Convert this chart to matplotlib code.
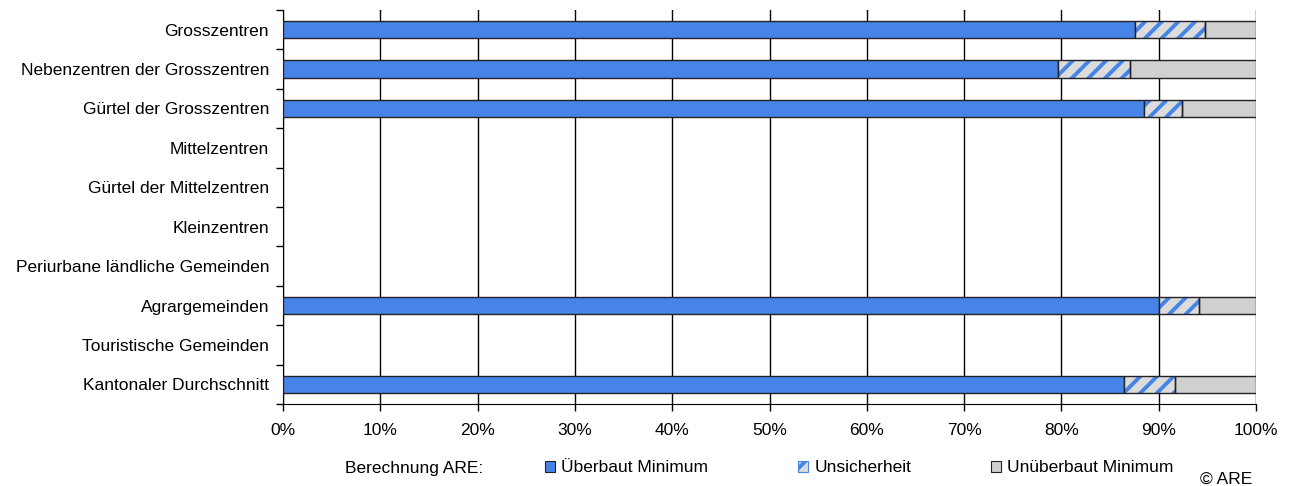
import numpy as np
import matplotlib
matplotlib.use("Agg")
import matplotlib.pyplot as plt
from matplotlib.patches import Patch

plt.rcParams['font.family'] = ['Liberation Sans', 'DejaVu Sans']
plt.rcParams['hatch.linewidth'] = 2.8

categories = ["Grosszentren", "Nebenzentren der Grosszentren", "Gürtel der Grosszentren",
              "Mittelzentren", "Gürtel der Mittelzentren", "Kleinzentren",
              "Periurbane ländliche Gemeinden", "Agrargemeinden", "Touristische Gemeinden",
              "Kantonaler Durchschnitt"]
# shares in %, None where the category has no data
ueberbaut = [87.6, 79.6, 88.5, None, None, None, None, 90.0, None, 86.4]
unsicher = [7.2, 7.5, 3.9, None, None, None, None, 4.1, None, 5.3]
legend_labels = ["Überbaut Minimum", "Unsicherheit", "Unüberbaut Minimum"]

blue = "#4784E8"
grey = "#D0D0D0"
light = "#DCDCDC"
edge = "#222222"
fs = 12.5

idx = np.array([i for i, v in enumerate(ueberbaut) if v is not None])
ub = np.array([ueberbaut[i] for i in idx])
un = np.array([unsicher[i] for i in idx])
rest = 100 - ub - un

fig = plt.figure(figsize=(12.92, 4.86), dpi=100)
ax = fig.add_axes([283 / 1292, 1 - 404 / 486, (1256 - 283) / 1292, (404 - 10) / 486])

h = 0.44
ax.barh(idx, ub, height=h, color=blue, edgecolor=edge, linewidth=1, zorder=3)
# hatched uncertainty: fill with blue hatch, then outline on top
ax.barh(idx, un, left=ub, height=h, color=light, edgecolor=blue,
        hatch="//", linewidth=0, zorder=3)
ax.barh(idx, un, left=ub, height=h, color="none", edgecolor=edge,
        linewidth=1, zorder=4)
ax.barh(idx, rest, left=ub + un, height=h, color=grey, edgecolor=edge,
        linewidth=1, zorder=3)

y = np.arange(len(categories))
ax.set_xlim(0, 100)
ax.set_ylim(len(categories) - 0.5, -0.5)
ax.set_xticks(np.arange(0, 101, 10))
ax.set_xticklabels([f"{v}%" for v in range(0, 101, 10)], fontsize=fs)
ax.set_yticks(y)
ax.set_yticklabels(categories, fontsize=fs)
ax.set_yticks(np.arange(-0.5, len(categories), 1), minor=True)
ax.tick_params(axis='y', which='major', length=0, pad=10)
ax.tick_params(axis='y', which='minor', length=5, width=1)
ax.tick_params(axis='x', length=5, width=1, pad=9)
ax.xaxis.grid(True, color="black", linewidth=1, zorder=0)
ax.spines['top'].set_visible(False)
ax.spines['right'].set_visible(False)

fig.text(345 / 1292, 1 - 468 / 486, "Berechnung ARE:", fontsize=fs, va="center")
handles = [Patch(facecolor=blue, edgecolor=edge, linewidth=0.8),
           Patch(facecolor=light, edgecolor=blue, hatch="//", linewidth=0.8),
           Patch(facecolor=grey, edgecolor=edge, linewidth=0.8)]
for hd, lab, x0 in zip(handles, legend_labels, [545, 798, 991]):
    fig.legend(handles=[hd], labels=[lab], loc="center left",
               bbox_to_anchor=(x0 / 1292, 1 - 468 / 486), frameon=False, fontsize=fs,
               handlelength=0.6, handleheight=0.6, handletextpad=0.35,
               borderpad=0, borderaxespad=0)
fig.text(1200 / 1292, 1 - 479 / 486, "© ARE", fontsize=fs, va="center")

fig.savefig("out.png", dpi=100)
